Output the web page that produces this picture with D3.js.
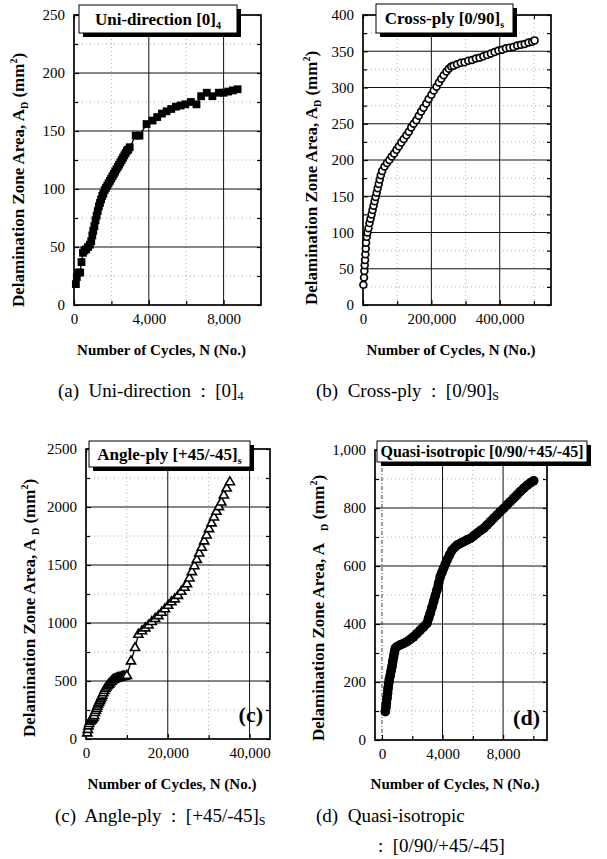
<!DOCTYPE html>
<html><head><meta charset="utf-8">
<script src="https://cdn.jsdelivr.net/npm/d3@7"></script>
<style>
body{margin:0;background:#fff;}
svg{display:block;}
text{font-family:"Liberation Serif","Times New Roman",Times,serif;fill:#000;}
</style>
</head><body>
<svg id="chart" width="607" height="859"></svg>
<script>
// ---------------- DATA ----------------
// (a) Uni-direction [0]4
const uniN = [100,150,200,330,400,480,560,650,750,850,920,980,1030,1090,1150,1210,1270,1330,1390,1450,1510,1570,1640,1710,1780,1850,1920,1990,2060,2130,2200,2270,2340,2410,2480,2550,2620,2690,2760,2830,2900,2980,3300,3500,3880,4200,4450,4700,4950,5200,5450,5700,5950,6250,6550,6800,7100,7400,7750,8000,8250,8500,8750];
const uniA = [18,24,28,28,37,45,47,48,50,52,55,60,64,68,73,77,81,85,88,91,94,96,99,101,103,105,107,109,111,113,115,117,119,121,123,125,127,129,131,133,134,136,146,146,156,159,162,165,167,169,171,172,173,175,173,180,183,180,183,183,184,185,186];
// (b) Cross-ply [0/90]s
const crossN = [1000,3000,4000,5000,6000,7000,8000,9000,11000,13000,16000,19000,22000,25000,28000,31000,34000,37000,40000,43000,46000,49000,52000,56000,63000,70000,77000,84000,91000,98000,105000,112000,119000,127000,134000,141000,148000,156000,163000,170000,177000,185000,192000,200000,207000,215000,222000,229000,236000,244000,251000,258000,265000,275000,286000,297000,308000,319000,330000,341000,352000,363000,374000,385000,396000,407000,418000,429000,440000,451000,462000,473000,484000,495000,502000];
const crossA = [28,38,47,55,62,70,78,86,94,100,106,113,119,125,131,137,143,149,155,161,167,173,179,185,191,196,200,205,209,214,219,224,229,234,239,245,250,255,261,267,272,278,284,290,296,301,307,312,317,322,326,329,330,332,334,335,337,338,340,341,343,345,347,349,351,352,354,355,356,358,359,360,362,363,365];
// (c) Angle-ply [+45/-45]s
const angleN = [300,450,600,800,1000,1200,1400,1600,1800,2000,2200,2400,2600,2800,3000,3200,3400,3600,3800,4000,4250,4500,4750,5000,5300,5600,5900,6200,6500,6800,7100,7400,7700,8000,8300,8600,8900,9200,9500,10000,11000,12000,12800,13700,14500,15300,16100,16900,17700,18500,19300,20100,20900,21700,22500,23300,24100,24700,25300,25900,26500,27100,27700,28300,28900,29500,30100,30700,31300,31900,32500,33100,33700,34400,35200];
const angleA = [50,80,110,130,150,160,165,175,185,200,225,245,262,280,300,315,330,345,360,375,395,415,432,445,458,470,482,495,505,512,516,520,524,527,530,533,536,538,540,545,670,785,900,930,955,980,1010,1035,1060,1090,1120,1150,1180,1205,1235,1270,1305,1335,1385,1440,1490,1545,1600,1650,1705,1755,1810,1860,1910,1960,2000,2040,2100,2160,2215];
// (d) Quasi-isotropic [0/90/+45/-45]
const quasiN = [220,260,290,330,370,400,440,490,550,600,660,710,770,820,880,1000,1210,1430,1650,1870,2090,2310,2530,2750,2970,3080,3190,3300,3410,3520,3630,3740,3850,3960,4070,4190,4300,4460,4630,4800,4960,5180,5400,5620,5840,6060,6280,6500,6720,6940,7160,7380,7600,7820,8040,8260,8480,8700,8920,9140,9360,9580,9800,10020];
const quasiA = [98,112,126,144,161,178,195,210,224,238,253,270,287,302,316,322,328,333,339,347,356,367,379,390,402,420,437,457,477,497,517,540,563,578,592,607,621,638,655,664,672,678,684,690,695,704,713,722,730,741,753,765,776,788,799,811,822,834,845,857,868,878,887,894];

// ticks and labels
const aXTicks = [0,4000,8000], aXLabels = ["0","4,000","8,000"], aXMinor = [2000,6000,10000];
const aYTicks = [0,50,100,150,200,250], aYLabels = ["0","50","100","150","200","250"], aYMinor = [25,75,125,175,225];
const bXTicks = [0,200000,400000], bXLabels = ["0","200,000","400,000"], bXMinor = [100000,300000,500000];
const bYTicks = [0,50,100,150,200,250,300,350,400], bYLabels = ["0","50","100","150","200","250","300","350","400"], bYMinor = [25,75,125,175,225,275,325,375];
const cXTicks = [0,20000,40000], cXLabels = ["0","20,000","40,000"], cXMinor = [10000,30000];
const cYTicks = [0,500,1000,1500,2000,2500], cYLabels = ["0","500","1000","1500","2000","2500"], cYMinor = [250,750,1250,1750,2250];
const dXTicks = [0,4000,8000], dXLabels = ["0","4,000","8,000"], dXMinor = [2000,6000,10000];
const dYTicks = [0,200,400,600,800,1000], dYLabels = ["0","200","400","600","800","1,000"], dYMinor = [100,300,500,700,900];

const legendTexts = [["Uni-direction [0]","4"],["Cross-ply [0/90]","s"],["Angle-ply [+45/-45]","s"],["Quasi-isotropic [0/90/+45/-45]",""]];
const captions = [["(a)  Uni-direction  :  [0]","4"],["(b)  Cross-ply  :  [0/90]","S"],["(c)  Angle-ply  :  [+45/-45]","S"],["(d)  Quasi-isotropic",""]];
const caption4b = ":  [0/90/+45/-45]";
const xTitle = "Number of Cycles, N (No.)";

// ---------------- DRAW ----------------
const svg = d3.select("#chart");

const panels = [
  {box:[74,261,15,305], xd:[0,10000], yd:[0,250], xt:aXTicks, xl:aXLabels, xm:aXMinor, yt:aYTicks, yl:aYLabels, ym:aYMinor,
   N:uniN, A:uniA, mark:"square", leg:0, legBox:[79,5,158,28], legFs:17, ytx:24, yty:180, xty:355, cap:0, capX:58, capY:397, tag:null, adGap:0},
  {box:[363,551,15,305], xd:[0,550000], yd:[0,400], xt:bXTicks, xl:bXLabels, xm:bXMinor, yt:bYTicks, yl:bYLabels, ym:bYMinor,
   N:crossN, A:crossA, mark:"circle", leg:1, legBox:[376,4,137,29], legFs:17, ytx:317, yty:178, xty:355, cap:1, capX:316, capY:397, tag:null, adGap:0},
  {box:[86,270,449,739], xd:[0,45000], yd:[0,2500], xt:cXTicks, xl:cXLabels, xm:cXMinor, yt:cYTicks, yl:cYLabels, ym:cYMinor,
   N:angleN, A:angleA, mark:"triangle", leg:2, legBox:[89,441,161,26], legFs:17, ytx:35, yty:608, xty:789, cap:2, capX:55, capY:822, tag:"(c)", tagX:263, tagY:722, adGap:4},
  {box:[375,547,450,740], xd:[-460,10900], yd:[0,1000], xt:dXTicks, xl:dXLabels, xm:dXMinor, yt:dYTicks, yl:dYLabels, ym:dYMinor,
   N:quasiN, A:quasiA, mark:"dot", leg:3, legBox:[377,441,210,21], legFs:16, ytx:324, yty:608, xty:789, cap:3, capX:316, capY:822, tag:"(d)", tagX:540, tagY:725, adGap:12}
];

function drawPanel(p){
  const [L,R,T,B] = p.box;
  const g = svg.append("g");
  const x = d3.scaleLinear().domain(p.xd).range([L,R]);
  const y = d3.scaleLinear().domain(p.yd).range([B,T]);

  // minor dotted grid
  g.selectAll(null).data(p.xm.filter(v=>v>p.xd[0]&&v<p.xd[1])).join("line")
    .attr("x1",d=>x(d)).attr("x2",d=>x(d)).attr("y1",T).attr("y2",B)
    .attr("stroke","#9a9a9a").attr("stroke-width",0.8).attr("stroke-dasharray","1,3");
  g.selectAll(null).data(p.ym).join("line")
    .attr("x1",L).attr("x2",R).attr("y1",d=>y(d)).attr("y2",d=>y(d))
    .attr("stroke","#9a9a9a").attr("stroke-width",0.8).attr("stroke-dasharray","1,3");
  // major grid
  g.selectAll(null).data(p.xt.filter(v=>v>p.xd[0]&&v<p.xd[1])).join("line")
    .attr("x1",d=>x(d)).attr("x2",d=>x(d)).attr("y1",T).attr("y2",B)
    .attr("stroke","#111").attr("stroke-width",d=>d===0?0.8:1)
    .attr("stroke-dasharray",d=>d===0?"4,2,1,2":null);
  g.selectAll(null).data(p.yt.filter(v=>v>p.yd[0]&&v<p.yd[1])).join("line")
    .attr("x1",L).attr("x2",R).attr("y1",d=>y(d)).attr("y2",d=>y(d))
    .attr("stroke","#111").attr("stroke-width",1);

  // axes (inward ticks)
  const styleAx = sel => { sel.select(".domain").remove(); sel.selectAll("text").attr("font-size","15px").attr("font-family","Liberation Serif, serif"); sel.selectAll("line").attr("stroke","#000").attr("stroke-width",1.2); };
  g.append("g").attr("transform",`translate(${L},0)`)
    .call(d3.axisLeft(y).tickValues(p.yt).tickFormat((d,i)=>p.yl[i]).tickSizeInner(-5).tickSizeOuter(0).tickPadding(9)).call(styleAx);
  g.append("g").attr("transform",`translate(${L},0)`)
    .call(d3.axisLeft(y).tickValues(p.ym).tickFormat("").tickSizeInner(-4).tickSizeOuter(0)).call(styleAx);
  g.append("g").attr("transform",`translate(${R},0)`)
    .call(d3.axisRight(y).tickValues(p.yt.concat(p.ym)).tickFormat("").tickSizeInner(-4).tickSizeOuter(0)).call(styleAx);
  g.append("g").attr("transform",`translate(0,${B})`)
    .call(d3.axisBottom(x).tickValues(p.xt).tickFormat((d,i)=>p.xl[i]).tickSizeInner(-5).tickSizeOuter(0).tickPadding(8)).call(styleAx);
  g.append("g").attr("transform",`translate(0,${B})`)
    .call(d3.axisBottom(x).tickValues(p.xm.filter(v=>v<p.xd[1])).tickFormat("").tickSizeInner(-4).tickSizeOuter(0)).call(styleAx);
  g.append("g").attr("transform",`translate(0,${T})`)
    .call(d3.axisTop(x).tickValues(p.xt.concat(p.xm).filter(v=>v<p.xd[1])).tickFormat("").tickSizeInner(-4).tickSizeOuter(0)).call(styleAx);

  // frame
  g.append("rect").attr("x",L).attr("y",T).attr("width",R-L).attr("height",B-T)
    .attr("fill","none").attr("stroke","#000").attr("stroke-width",1.7);

  // series
  const pts = d3.zip(p.N,p.A);
  const line = d3.line().x(d=>x(d[0])).y(d=>y(d[1]));
  const sg = g.append("g");
  if(p.mark==="dot"){
    sg.append("path").datum(pts).attr("d",line).attr("fill","none").attr("stroke","#000").attr("stroke-width",9).attr("stroke-linejoin","round").attr("stroke-linecap","round");
    sg.selectAll(null).data(pts).join("circle").attr("cx",d=>x(d[0])).attr("cy",d=>y(d[1])).attr("r",4.8).attr("fill","#000");
  } else {
    sg.append("path").datum(pts).attr("d",line).attr("fill","none").attr("stroke","#000").attr("stroke-width",1.3);
    if(p.mark==="square"){
      sg.selectAll(null).data(pts).join("rect").attr("x",d=>x(d[0])-3.9).attr("y",d=>y(d[1])-3.9).attr("width",7.8).attr("height",7.8).attr("fill","#000");
    } else if(p.mark==="circle"){
      sg.selectAll(null).data(pts).join("circle").attr("cx",d=>x(d[0])).attr("cy",d=>y(d[1])).attr("r",3.4).attr("fill","#fff").attr("stroke","#000").attr("stroke-width",1.7);
    } else {
      const tri = d3.symbol().type(d3.symbolTriangle).size(36);
      sg.selectAll(null).data(pts).join("path").attr("d",tri).attr("transform",d=>`translate(${x(d[0])},${y(d[1])})`).attr("fill","#fff").attr("stroke","#000").attr("stroke-width",1.6);
    }
  }

  // tag (c)/(d)
  if(p.tag){
    g.append("text").attr("x",p.tagX).attr("y",p.tagY).attr("text-anchor","end").attr("font-weight","bold").attr("font-size","22px").text(p.tag);
  }

  // legend box with shadow
  const [lx,ly,lw,lh] = p.legBox;
  g.append("rect").attr("x",lx+4).attr("y",ly+4).attr("width",lw).attr("height",lh).attr("fill","#000");
  g.append("rect").attr("x",lx).attr("y",ly).attr("width",lw).attr("height",lh).attr("fill","#fff").attr("stroke","#000").attr("stroke-width",1);
  const lt = g.append("text").attr("x",lx+lw/2).attr("y",ly+lh/2+p.legFs*0.33).attr("text-anchor","middle").attr("font-weight","bold").attr("font-size",p.legFs+"px");
  lt.append("tspan").text(legendTexts[p.leg][0]);
  if(legendTexts[p.leg][1]) lt.append("tspan").attr("dy",4).attr("font-size","10px").text(legendTexts[p.leg][1]);

  // y title
  const yt = g.append("text").attr("transform",`translate(${p.ytx},${p.yty}) rotate(-90)`).attr("text-anchor","middle").attr("font-weight","bold").attr("font-size","17px");
  yt.append("tspan").text("Delamination Zone Area, A");
  yt.append("tspan").attr("dx",p.adGap).attr("dy",4).attr("font-size","10px").text("D");
  yt.append("tspan").attr("dy",-4).text(" (mm");
  yt.append("tspan").attr("dy",-7).attr("font-size","10px").text("2");
  yt.append("tspan").attr("dy",7).text(")");

  // x title
  g.append("text").attr("x",(L+R)/2-6).attr("y",p.xty).attr("text-anchor","middle").attr("font-weight","bold").attr("font-size","15px").text(xTitle);

  // caption
  const ct = g.append("text").attr("x",p.capX).attr("y",p.capY).attr("font-size","19px").style("white-space","pre");
  ct.append("tspan").text(captions[p.cap][0]);
  if(captions[p.cap][1]) ct.append("tspan").attr("dy",3).attr("font-size","12px").text(captions[p.cap][1]);
}

panels.forEach(drawPanel);
svg.append("text").attr("x",378).attr("y",852).attr("font-size","19px").style("white-space","pre").text(caption4b);
</script>
</body></html>
